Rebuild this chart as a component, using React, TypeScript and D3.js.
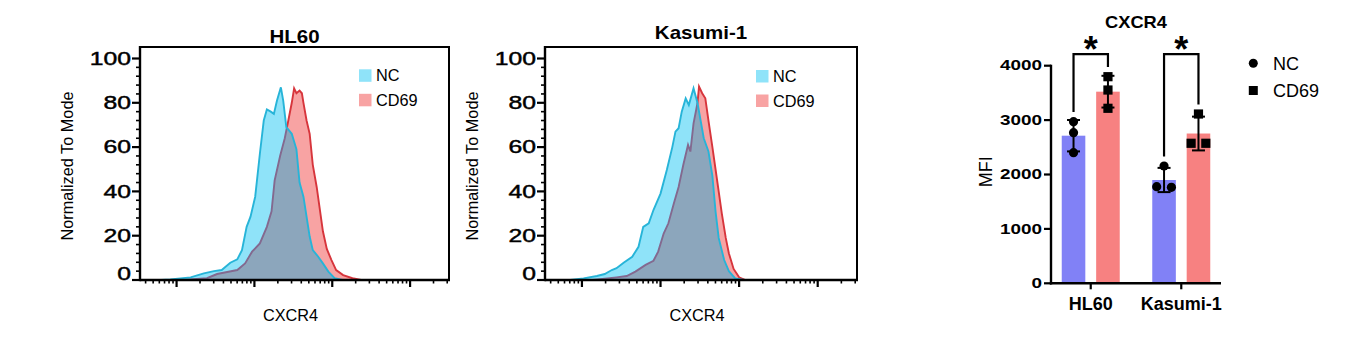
import React from 'react';
import * as d3 from 'd3';

// ---------- Histogram data (x = log10 CXCR4 intensity, y = % of mode) ----------
const histYTicks = [0, 20, 40, 60, 80, 100];
const histSeries = ['NC', 'CD69'];

const hl60NcLog = [1.80, 1.92, 2.18, 2.35, 2.48, 2.58, 2.69, 2.78, 2.84, 2.90, 2.95, 3.01, 3.07, 3.12, 3.16, 3.21, 3.25, 3.29, 3.34, 3.37, 3.41, 3.48, 3.54, 3.58, 3.63, 3.67, 3.71, 3.75, 3.82, 3.88, 3.95, 4.03, 4.13];
const hl60NcPct = [0, 0.3, 1.2, 3, 4, 4.5, 7.8, 9.3, 13.5, 24, 28.6, 37.6, 57, 72, 77, 76, 75, 81, 87, 81, 69, 66, 59, 44, 37.6, 28.6, 19.6, 13.5, 10.5, 7.5, 3.8, 0.8, 0];
const hl60Cd69Log = [2.09, 2.39, 2.52, 2.65, 2.78, 2.88, 2.97, 3.07, 3.16, 3.22, 3.26, 3.33, 3.39, 3.43, 3.48, 3.51, 3.54, 3.58, 3.61, 3.63, 3.67, 3.71, 3.75, 3.80, 3.84, 3.88, 3.93, 3.99, 4.05, 4.14, 4.26, 4.37];
const hl60Cd69Pct = [0, 0.8, 2.7, 3.6, 4.5, 7.5, 12.8, 16.5, 24, 31, 45, 56, 64, 71, 80, 86.5, 84.3, 85.5, 84.3, 80, 72, 66, 52, 42, 32, 22, 14, 9, 4.5, 2.2, 0.8, 0];

const kasumiNcLog = [1.85, 2.02, 2.19, 2.29, 2.38, 2.44, 2.53, 2.64, 2.72, 2.78, 2.85, 2.91, 3.00, 3.08, 3.15, 3.19, 3.23, 3.27, 3.32, 3.36, 3.42, 3.47, 3.51, 3.55, 3.61, 3.66, 3.70, 3.74, 3.81, 3.87, 3.95, 4.06];
const kasumiNcPct = [0, 0.75, 1.8, 2.7, 4.5, 5.3, 7.8, 10.5, 15, 24, 25.6, 31.6, 39, 49.7, 60, 67, 68.5, 76, 82, 79, 86.5, 80, 72, 64, 58, 47, 31, 19, 9, 4, 0.75, 0];
const kasumiCd69Log = [2.14, 2.44, 2.57, 2.68, 2.81, 2.91, 2.97, 3.04, 3.10, 3.17, 3.23, 3.29, 3.35, 3.38, 3.42, 3.47, 3.49, 3.53, 3.57, 3.61, 3.66, 3.70, 3.74, 3.78, 3.83, 3.87, 3.93, 4.00, 4.08];
const kasumiCd69Pct = [0, 1.2, 1.8, 3.8, 6.8, 8.7, 12.8, 21, 25.6, 34.6, 42, 52, 61, 58, 70.7, 79.8, 87.3, 84.3, 82, 72, 60, 50, 40, 30, 19, 12, 5, 1.2, 0];

// ---------- Bar chart data (MFI) ----------
const barGroups = ['HL60', 'Kasumi-1'];
const barSeries = ['NC', 'CD69'];
const hl60NcMfi = [2971, 2768, 2401];
const hl60Cd69Mfi = [3798, 3553, 3217];
const kasumiNcMfi = [2156, 1776, 1765];
const kasumiCd69Mfi = [3112, 2574, 2574];
const barYTicks = [0, 1000, 2000, 3000, 4000];
const sigLabels = ['*', '*'];

const FONT = 'Liberation Sans, Arial, Helvetica, sans-serif';
const NC_FILL = '#8fe3f9';
const NC_LINE = '#27b4d8';
const CD_FILL = '#f8a3a3';
const CD_LINE = '#d7353c';
const OVERLAP = '#8ca6bc';
const CD_LINE_UNDER = '#83698f';
const BAR_NC = '#8181f6';
const BAR_CD = '#f78181';

type HistProps = {
  id: string;
  title: string;
  ncLog: number[]; ncPct: number[];
  cdLog: number[]; cdPct: number[];
  left: number; right: number; top: number; bottom: number;
  titleY: number; legendX: number; legendY: number;
};

function Histogram(p: HistProps) {
  const x = d3.scaleLog().domain([Math.pow(10, 1.53), Math.pow(10, 5.5)]).range([p.left, p.right]);
  const y = d3.scaleLinear().domain([0, 100]).range([p.bottom, 58.5]);
  const toPts = (lg: number[], pc: number[]) => lg.map((v, i) => [Math.pow(10, v), pc[i]] as [number, number]);
  const area = d3.area<[number, number]>().x(d => x(d[0])).y0(y(0)).y1(d => y(d[1]));
  const line = d3.line<[number, number]>().x(d => x(d[0])).y(d => y(d[1]));
  const nc = toPts(p.ncLog, p.ncPct);
  const cd = toPts(p.cdLog, p.cdPct);
  const [d0, d1] = x.domain();
  const xTicks: { v: number; major: boolean }[] = [];
  for (let e = 1; e <= 5; e++) {
    for (let k = 1; k <= 9; k++) {
      const v = k * Math.pow(10, e);
      if (v >= d0 && v <= d1) xTicks.push({ v, major: k === 1 });
    }
  }
  const yMinor = d3.range(0, 101, 4).filter(v => v % 20 !== 0);
  const cx = (p.left + p.right) / 2;
  const clipId = `nc-clip-${p.id}`;
  return (
    <g>
      <defs>
        <clipPath id={clipId}><path d={area(nc) || ''} /></clipPath>
      </defs>
      <text x={cx} y={p.titleY} textAnchor="middle" fontFamily={FONT} fontWeight="bold" fontSize={17.7}
        transform={`translate(${cx},0) scale(1.16,1) translate(${-cx},0)`}>{p.title}</text>
      {/* curves */}
      <path d={area(cd) || ''} fill={CD_FILL} />
      <path d={line(cd) || ''} fill="none" stroke={CD_LINE} strokeWidth={1.9} />
      <path d={area(nc) || ''} fill={NC_FILL} />
      <g clipPath={`url(#${clipId})`}>
        <path d={area(cd) || ''} fill={OVERLAP} />
        <path d={line(cd) || ''} fill="none" stroke={CD_LINE_UNDER} strokeWidth={1.9} />
      </g>
      <path d={line(nc) || ''} fill="none" stroke={NC_LINE} strokeWidth={1.9} />
      {/* frame */}
      <path d={`M${p.left},${p.top}H${p.right}V${p.bottom}`} fill="none" stroke="#000" strokeWidth={2} />
      <line x1={p.left} x2={p.right + 1} y1={p.bottom} y2={p.bottom} stroke="#000" strokeWidth={2.4} />
      <line x1={p.left} x2={p.left} y1={p.top - 1} y2={p.bottom + 1.2} stroke="#000" strokeWidth={2.4} />
      {/* x ticks */}
      {xTicks.map((t, i) => (
        <line key={i} x1={x(t.v)} x2={x(t.v)} y1={p.bottom} y2={p.bottom + (t.major ? 7 : 3.5)} stroke="#000" strokeWidth={t.major ? 2.2 : 1.6} />
      ))}
      {/* y ticks */}
      {histYTicks.map(v => (
        <g key={v}>
          <line x1={p.left - 8} x2={p.left} y1={y(v)} y2={y(v)} stroke="#000" strokeWidth={2.2} />
          <text textAnchor="end" fontFamily={FONT} fontSize={18.6} dominantBaseline="central" stroke="#000" strokeWidth={0.45}
            transform={`translate(${p.left - 9},${y(v) - (v === 0 ? 6 : 0)}) scale(1.33,1)`}>{v}</text>
        </g>
      ))}
      {yMinor.map(v => (
        <line key={v} x1={p.left - 4} x2={p.left} y1={y(v)} y2={y(v)} stroke="#000" strokeWidth={1.6} />
      ))}
      {/* axis labels */}
      <text fontFamily={FONT} fontSize={16.3} textAnchor="middle"
        transform={`translate(${p.left - 67},${166}) rotate(-90)`}>Normalized To Mode</text>
      <text x={cx - 4} y={321} fontFamily={FONT} fontSize={16.3} textAnchor="middle">CXCR4</text>
      {/* legend */}
      {histSeries.map((s, i) => (
        <g key={s}>
          <rect x={p.legendX} y={p.legendY + i * 24.5} width={12.5} height={12.5} fill={i === 0 ? NC_FILL : CD_FILL} />
          <text x={p.legendX + 17} y={p.legendY + i * 24.5 + 12} fontFamily={FONT} fontSize={16.3}>{s}</text>
        </g>
      ))}
    </g>
  );
}

function sd(a: number[]) {
  return d3.deviation(a) || 0;
}

function BarChart() {
  const left = 1051;
  const right = 1221;
  const bottom = 283.3;
  const y = d3.scaleLinear().domain([0, 4000]).range([bottom, 65.7]);
  const xg = d3.scalePoint<string>().domain(barGroups).range([left, right]).padding(0.439);
  const xs = d3.scaleBand<string>().domain(barSeries).range([-29, 29]).paddingInner(0.315);
  const data: number[][][] = [[hl60NcMfi, hl60Cd69Mfi], [kasumiNcMfi, kasumiCd69Mfi]];
  const r = 4.6;
  const bw = xs.bandwidth();
  const jitter = (vals: number[]) => {
    // spread overlapping points horizontally
    const idx = vals.map((v, i) => i).sort((a, b) => vals[b] - vals[a]);
    const offs = vals.map(() => 0);
    let grp: number[] = [];
    const flush = () => {
      grp.forEach((g, k) => { offs[g] = (k - (grp.length - 1) / 2) * 2 * r * 1.6; });
      grp = [];
    };
    idx.forEach(i => {
      if (grp.length && Math.abs(y(vals[grp[grp.length - 1]]) - y(vals[i])) >= 2 * r) flush();
      grp.push(i);
    });
    flush();
    return offs;
  };
  const bracketY = y(4000) - 11.5;
  return (
    <g fontFamily={FONT}>
      <text textAnchor="middle" fontWeight="bold" fontSize={16.3}
        transform={`translate(${1136},${28.3}) scale(1.12,1)`}>CXCR4</text>
      {data.map((grp, gi) => {
        const gx = xg(barGroups[gi]) as number;
        return (
          <g key={gi}>
            {grp.map((vals, si) => {
              const cx = gx + (xs(barSeries[si]) as number) + bw / 2;
              const m = d3.mean(vals) as number;
              const s = sd(vals);
              const offs = jitter(vals);
              return (
                <g key={si}>
                  <rect x={cx - bw / 2} y={y(m)} width={bw} height={bottom - y(m)} fill={si === 0 ? BAR_NC : BAR_CD} />
                  <line x1={cx} x2={cx} y1={y(m - s)} y2={y(m + s)} stroke="#000" strokeWidth={2} />
                  <line x1={cx - 6.5} x2={cx + 6.5} y1={y(m - s)} y2={y(m - s)} stroke="#000" strokeWidth={2} />
                  <line x1={cx - 6.5} x2={cx + 6.5} y1={y(m + s)} y2={y(m + s)} stroke="#000" strokeWidth={2} />
                  {vals.map((v, k) => si === 0
                    ? <circle key={k} cx={cx + offs[k]} cy={y(v)} r={r} fill="#000" />
                    : <rect key={k} x={cx + offs[k] - r} y={y(v) - r} width={2 * r} height={2 * r} fill="#000" />)}
                </g>
              );
            })}
            {(() => {
              const cx0 = gx + (xs(barSeries[0]) as number) + bw / 2;
              const cx1 = gx + (xs(barSeries[1]) as number) + bw / 2;
              const end = (vals: number[]) => {
                const m = d3.mean(vals) as number;
                return Math.min(y(m + sd(vals)), y(d3.max(vals) as number) - r) - 5;
              };
              return (
                <g>
                  <path d={`M${cx0},${end(grp[0])}V${bracketY}H${cx1}V${end(grp[1])}`} fill="none" stroke="#000" strokeWidth={2.2} />
                  <text x={(cx0 + cx1) / 2} y={bracketY + 8} textAnchor="middle" fontWeight="bold" fontSize={36}>{sigLabels[gi]}</text>
                </g>
              );
            })()}
            <line x1={gx} x2={gx} y1={bottom} y2={bottom + 6} stroke="#000" strokeWidth={2.2} />
            <text x={gx} y={310} textAnchor="middle" fontWeight="bold" fontSize={18}>{barGroups[gi]}</text>
          </g>
        );
      })}
      {/* axes */}
      <line x1={left} x2={left} y1={bottom + 1.2} y2={y(4000) - 1} stroke="#000" strokeWidth={2.4} />
      <line x1={left - 1.2} x2={right} y1={bottom} y2={bottom} stroke="#000" strokeWidth={2.4} />
      {barYTicks.map(v => (
        <g key={v}>
          <line x1={left - 7} x2={left} y1={y(v)} y2={y(v)} stroke="#000" strokeWidth={2.2} />
          <text textAnchor="end" fontWeight="bold" fontSize={14} dominantBaseline="central"
            transform={`translate(${left - 9},${y(v)}) scale(1.35,1)`}>{v}</text>
        </g>
      ))}
      <text textAnchor="middle" fontSize={18}
        transform={`translate(${992},${171.7}) rotate(-90)`}>MFI</text>
      {/* legend */}
      <circle cx={1253.3} cy={63.3} r={4.5} fill="#000" />
      <text x={1273} y={69.5} fontSize={18}>{barSeries[0]}</text>
      <rect x={1248.8} y={86} width={9} height={9} fill="#000" />
      <text x={1273} y={96.8} fontSize={18}>{barSeries[1]}</text>
    </g>
  );
}

export default function App() {
  return (
    <svg width={1369} height={343} style={{ position: 'absolute', left: 0, top: 0, background: '#fff' }}>
      <rect width={1369} height={343} fill="#fff" />
      <Histogram id="hl60" title="HL60" ncLog={hl60NcLog} ncPct={hl60NcPct} cdLog={hl60Cd69Log} cdPct={hl60Cd69Pct}
        left={140} right={449} top={47} bottom={280} titleY={42.7} legendX={359} legendY={69.3} />
      <Histogram id="kasumi" title="Kasumi-1" ncLog={kasumiNcLog} ncPct={kasumiNcPct} cdLog={kasumiCd69Log} cdPct={kasumiCd69Pct}
        left={545} right={857} top={47} bottom={280} titleY={39.3} legendX={756} legendY={70} />
      <BarChart />
    </svg>
  );
}
